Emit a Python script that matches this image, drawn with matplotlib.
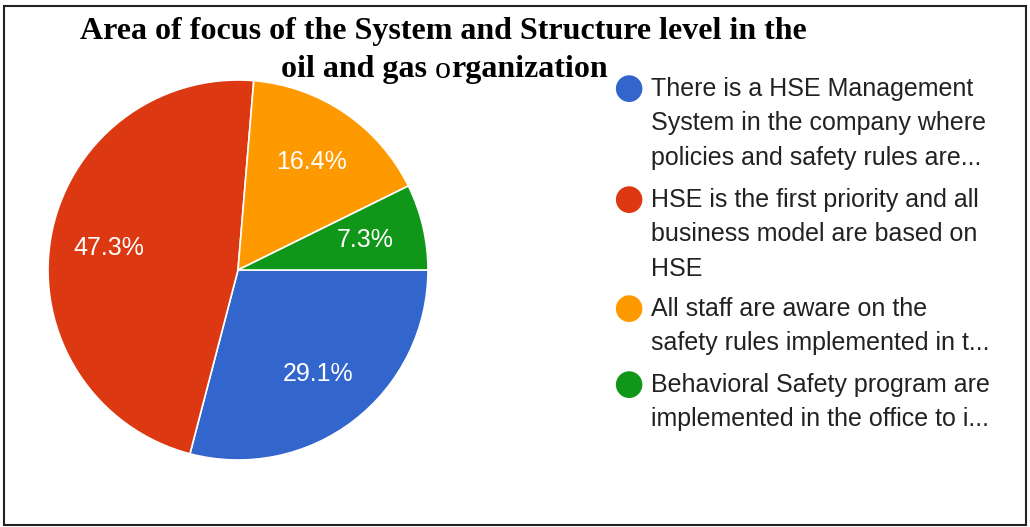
import matplotlib.pyplot as plt
from matplotlib.patches import Rectangle

# slice shares (percent) and legend entries
shares = [29.1, 47.3, 16.4, 7.3]
labels = ['There is a HSE Management\nSystem in the company where\npolicies and safety rules are...',
          'HSE is the first priority and all\nbusiness model are based on\nHSE',
          'All staff are aware on the\nsafety rules implemented in t...',
          'Behavioral Safety program are\nimplemented in the office to i...']
colors = ['#3366cc', '#dc3912', '#ff9900', '#109618']
title1 = 'Area of focus of the System and Structure level in the'
title2 = ['oil and gas ', 'o', 'rganization']

W, H = 1030, 527
fig = plt.figure(figsize=(W / 100, H / 100), dpi=100)

# pie centred at (238, 270) px, radius ~190 px
cx, cy, r = 238, 270, 190
ax = fig.add_axes([(cx - r) / W, 1 - (cy + r) / H, 2 * r / W, 2 * r / H])
wedges, _, autotexts = ax.pie(shares, colors=colors, startangle=0, counterclock=False,
                              autopct='%.1f%%', pctdistance=0.69,
                              wedgeprops=dict(edgecolor='white', linewidth=1.2),
                              textprops=dict(color='white', fontsize=18, family='Liberation Sans'))
ax.set_xlim(-1, 1)
ax.set_ylim(-1, 1)
ax.set_aspect('equal')
ax.axis('off')

# title in Times-like serif bold
tfont = dict(family='Liberation Serif', fontsize=23, color='black')
fig.text(443 / W, 1 - 32 / H, title1, ha='center', va='center', fontweight='bold', **tfont)

# second line: middle "o" is set in regular weight
fig.canvas.draw()
rend = fig.canvas.get_renderer()
weights = ['bold', 'normal', 'bold']
pieces = []
for s, wgt in zip(title2, weights):
    t = fig.text(0, 1 - 70 / H, s, ha='left', va='center', fontweight=wgt, **tfont)
    pieces.append(t)
widths = [p.get_window_extent(rend).width for p in pieces]
x = 444 - sum(widths) / 2
for p, w in zip(pieces, widths):
    p.set_x(x / W)
    x += w

# legend drawn by hand: dot plus wrapped text
ys = [88, 199, 308, 384]
for lab, col, y in zip(labels, colors, ys):
    fig.text(628 / W, 1 - y / H, '\u25CF', ha='center', va='center', color=col,
             fontsize=25, family='DejaVu Sans')
    fig.text(651 / W, 1 - (y - 11) / H, lab, ha='left', va='top', color='#222222',
             fontsize=18, family='Liberation Sans', linespacing=1.55)

# outer frame
fig.patches.append(Rectangle((4 / W, 2 / H), 1022 / W, 519 / H, transform=fig.transFigure,
                             fill=False, edgecolor='#222222', linewidth=1.5))

fig.savefig('out.png', dpi=100)
